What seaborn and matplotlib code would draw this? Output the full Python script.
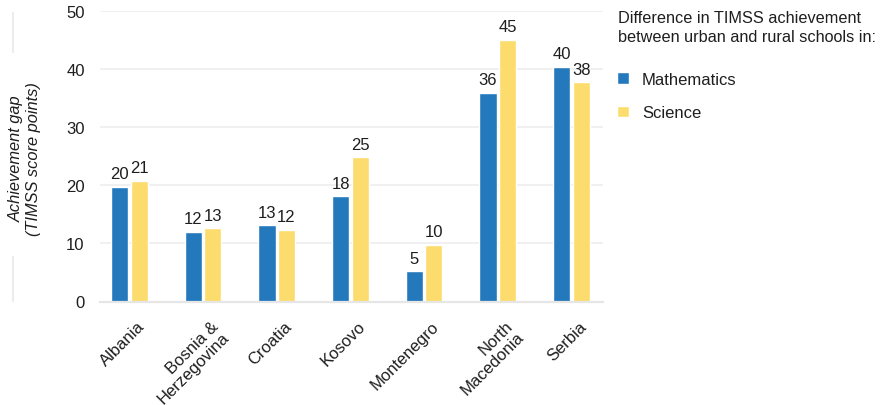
import numpy as np
import pandas as pd
import seaborn as sns
import matplotlib.pyplot as plt
from matplotlib.lines import Line2D
from matplotlib.transforms import ScaledTranslation

countries = ["Albania", "Bosnia &\nHerzegovina", "Croatia", "Kosovo",
             "Montenegro", "North\nMacedonia", "Serbia"]
mathematics = [19.7, 12.0, 13.1, 18.1, 5.2, 35.9, 40.4]
science = [20.8, 12.6, 12.3, 24.8, 9.8, 45.0, 37.7]
subjects = ["Mathematics", "Science"]
y_ticks = [0, 10, 20, 30, 40, 50]

legend_title = "Difference in TIMSS achievement\nbetween urban and rural schools in:"
y_label = "Achievement gap\n(TIMSS score points)"

df = pd.DataFrame({
    "country": countries * 2,
    "subject": [subjects[0]] * len(countries) + [subjects[1]] * len(countries),
    "gap": mathematics + science,
})

sns.set_theme(style="white")
plt.rcParams["font.family"] = ["Liberation Sans", "DejaVu Sans"]
TXT = "#1e1e1e"

W, H = 882, 406
fig = plt.figure(figsize=(W / 100, H / 100), dpi=100)
ax = fig.add_axes([100 / W, 1 - 302.5 / H, 503 / W, 290.5 / H])

palette = {"Mathematics": "#2479bd", "Science": "#fddc6e"}
sns.barplot(data=df, x="country", y="gap", hue="subject", order=countries,
            hue_order=subjects, palette=palette, width=0.53, gap=0.12,
            saturation=1, ax=ax, errorbar=None, legend=True)

for cont in ax.containers:
    vals = cont.datavalues
    ax.bar_label(cont, labels=[f"{v:.0f}" for v in vals], padding=4,
                 fontsize=12, color=TXT)

ax.set_xlim(-0.40, 6.43)
ax.set_ylim(0, 50)
ax.set_yticks(y_ticks)
ax.set_yticklabels([str(t) for t in y_ticks])
ax.set_axisbelow(True)
ax.yaxis.grid(True, color="#ececec", linewidth=1.1)
ax.xaxis.grid(False)
for s in ["top", "right", "left"]:
    ax.spines[s].set_visible(False)
ax.spines["bottom"].set_color("#e6e6e6")
ax.spines["bottom"].set_linewidth(1.6)
ax.tick_params(axis="y", length=0, pad=11, labelsize=12, labelcolor=TXT)
ax.tick_params(axis="x", length=0, pad=0, labelsize=12, labelcolor=TXT)
ax.set_xlabel("")
ax.set_ylabel("")

offset = ScaledTranslation(0.075, -0.165, fig.dpi_scale_trans)
for lbl in ax.get_xticklabels():
    lbl.set_rotation(45)
    lbl.set_ha("right")
    lbl.set_va("top")
    lbl.set_rotation_mode("anchor")
    lbl.set_multialignment("right")
    lbl.set_linespacing(1.0)
    lbl.set_transform(lbl.get_transform() + offset)

fig.text(25 / W, 1 - 159 / H, y_label, rotation=90, ha="center", va="center",
         style="italic", fontsize=11.8, color=TXT, multialignment="center")

# faint bracket around the axis title
for y0, y1 in [(14, 53), (258, 302)]:
    fig.add_artist(Line2D([12.5 / W, 12.5 / W], [1 - y0 / H, 1 - y1 / H],
                          color="#ececec", linewidth=1.5))

fig.text(618 / W, 1 - 11 / H, legend_title, ha="left", va="top",
         fontsize=11.7, color=TXT, linespacing=1.3)

handles, labels = ax.get_legend_handles_labels()
ax.legend(handles, labels, loc="upper left",
          bbox_to_anchor=(617 / W, 1 - 73 / H), bbox_transform=fig.transFigure,
          frameon=False, fontsize=12, handlelength=0.69, handleheight=0.69,
          handletextpad=0.8, labelspacing=1.1, borderpad=0, borderaxespad=0,
          labelcolor=TXT)

fig.savefig("out.png", dpi=100)
